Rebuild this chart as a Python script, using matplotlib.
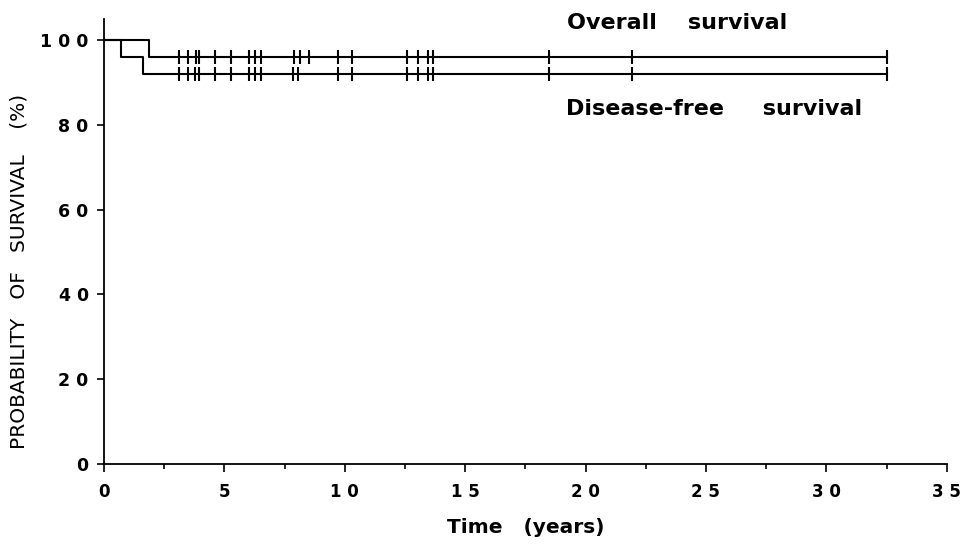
import numpy as np
import matplotlib
matplotlib.use("Agg")
import matplotlib.pyplot as plt

# ---- data ----
os_event_times = [0.0, 1.88]
os_event_surv = [100, 96]
dfs_event_times = [0.0, 0.69, 1.60]
dfs_event_surv = [100, 96, 92]
end_time = 32.52

os_censor = [3.13, 3.50, 3.82, 3.95, 4.61, 5.27, 6.03, 6.28, 6.51, 7.89, 8.14, 8.51,
             9.72, 10.30, 12.58, 13.04, 13.45, 13.66, 18.47, 21.93, 32.52]
dfs_censor = [3.13, 3.50, 3.78, 3.95, 4.61, 5.27, 6.03, 6.28, 6.51, 7.85, 8.05,
              9.72, 10.30, 12.58, 13.04, 13.45, 13.66, 18.47, 21.93, 32.52]

x_ticks = [0, 5, 10, 15, 20, 25, 30, 35]
x_ticklabels = ["0", "5", "1 0", "1 5", "2 0", "2 5", "3 0", "3 5"]
y_ticks = [0, 20, 40, 60, 80, 100]
y_ticklabels = ["0", "2 0", "4 0", "6 0", "8 0", "1 0 0"]

plt.rcParams['font.family'] = ['DejaVu Sans']

fig = plt.figure(figsize=(9.65, 5.47), dpi=100)
W, H = 965, 547
x0, x1 = 104, 946.7
y0, y100 = 464, 40
ytop = 105
ax_top_px = y0 - (y0 - y100) * ytop / 100
ax = fig.add_axes([x0 / W, 1 - y0 / H, (x1 - x0) / W, (y0 - ax_top_px) / H])


def surv_at(t, times, surv):
    idx = np.searchsorted(times, t, side='right') - 1
    return np.array(surv)[idx]


lw = 1.5
for times, surv, cens in [(os_event_times, os_event_surv, os_censor),
                          (dfs_event_times, dfs_event_surv, dfs_censor)]:
    xs = list(times) + [end_time]
    ys = list(surv) + [surv[-1]]
    ax.step(xs, ys, where='post', color='black', lw=lw)
    cy = surv_at(np.array(cens), np.array(times), surv)
    ax.plot(cens, cy, ls='none', marker='|', ms=9.5, mew=1.5, color='black')

ax.set_xlim(0, 35)
ax.set_ylim(0, ytop)
for s in ['top', 'right']:
    ax.spines[s].set_visible(False)
for s in ['left', 'bottom']:
    ax.spines[s].set_linewidth(1.3)

ax.set_xticks(x_ticks)
ax.set_xticklabels(x_ticklabels)
ax.set_xticks(np.arange(2.5, 35, 5), minor=True)
ax.set_yticks(y_ticks)
ax.set_yticklabels(y_ticklabels)
ax.tick_params(axis='x', which='major', direction='out', length=6, width=1.2,
               labelsize=12, pad=8)
ax.tick_params(axis='x', which='minor', direction='out', length=3.5, width=1.2)
ax.tick_params(axis='y', which='major', direction='out', length=5, width=1.2,
               labelsize=12.5, pad=6)
for lab in ax.get_xticklabels() + ax.get_yticklabels():
    lab.set_fontweight('bold')

ax.set_xlabel("Time   (years)", fontsize=14.5, fontweight='bold', labelpad=12)
fig.text(19 / W, 1 - 271 / H, "PROBABILITY   OF   SURVIVAL    (%)", rotation=90,
         ha='center', va='center', fontsize=14.5)

ax.text(677 / W, 1 - 23 / H, "Overall    survival", transform=fig.transFigure,
        ha='center', va='center', fontsize=16, fontweight='bold')
ax.text(714 / W, 1 - 109 / H, "Disease-free     survival", transform=fig.transFigure,
        ha='center', va='center', fontsize=16, fontweight='bold')

fig.savefig("out.png", dpi=100)
